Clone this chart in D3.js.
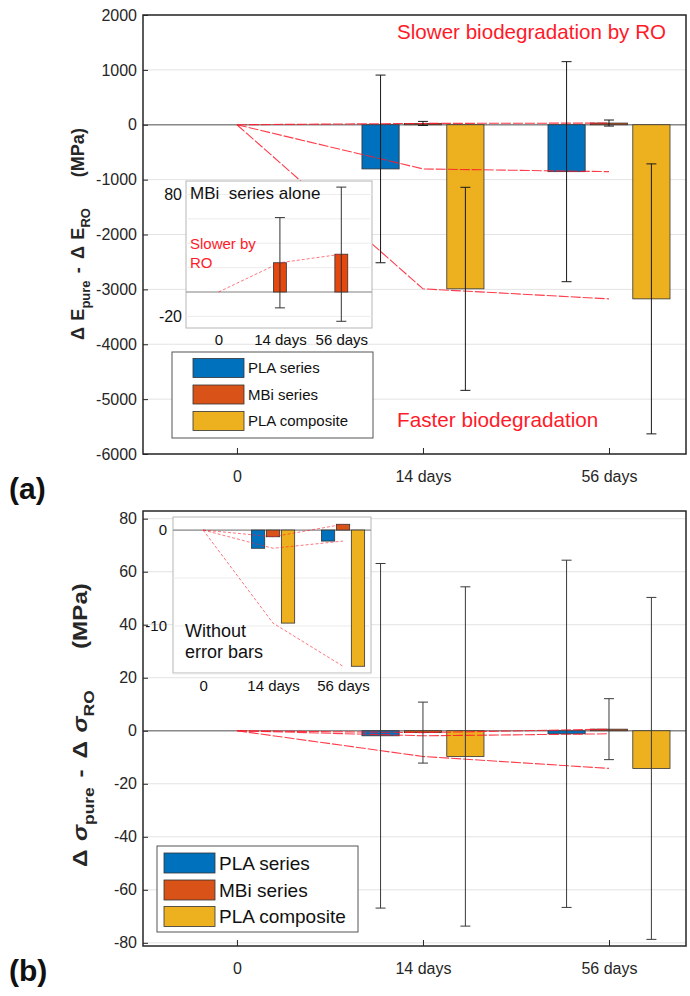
<!DOCTYPE html>
<html><head><meta charset="utf-8">
<script src="https://cdn.jsdelivr.net/npm/d3@7"></script>
<style>
body{margin:0;background:#fff}
text{font-family:"Liberation Sans",Arial,Helvetica,sans-serif}
</style>
</head><body>
<svg id="c" width="690" height="996"></svg>
<script>
// ---------------- DATA ----------------
const categories = ["0", "14 days", "56 days"];
const seriesNames = ["PLA series", "MBi series", "PLA composite"];
const seriesColors = ["#0072BD", "#D95319", "#EDB120"];

// (a) Δ E_pure − Δ E_RO (MPa)
const E_PLA = [0, -805, -855];
const E_MBi = [0, 24, 31];
const E_COMP = [0, -2990, -3173];
const E_PLA_err = [0, 1710, 2005];
const E_MBi_err = [0, 37, 55];
const E_COMP_err = [0, 1850, 2460];
const E_ticks = [-6000, -5000, -4000, -3000, -2000, -1000, 0, 1000, 2000];
const insetA_ticks = [80, -20];
const insetA_grid = [80, 60, 40, 20, 0, -20];

// (b) Δ σ_pure − Δ σ_RO (MPa)
const S_PLA = [0, -1.9, -1.15];
const S_MBi = [0, -0.7, 0.6];
const S_COMP = [0, -9.7, -14.2];
const S_PLA_err = [0, 65, 65.5];
const S_MBi_err = [0, 11.5, 11.5];
const S_COMP_err = [0, 64, 64.5];
const S_ticks = [-80, -60, -40, -20, 0, 20, 40, 60, 80];
const insetB_ticks = [0, -10];
const insetB_grid = [0, -5, -10, -15];

// ---------------- DRAWING ----------------
const svg = d3.select("#c");
const RED = "#ff1a2a";
const INK = "#262626";
const FF = '"Liberation Sans",Arial,sans-serif';
const fmt = d => String(d);

function drawBarChart(g, x, y, series, barW, opts) {
  const bw = x(barW) - x(0);
  series.forEach(s => {
    const data = s.values.map((v, j) => ({v, j})).filter(d => d.v !== 0);
    g.append("g").selectAll("rect").data(data).join("rect")
      .attr("x", d => x(d.j + s.offset) - bw / 2)
      .attr("y", d => Math.min(y(d.v), y(0)))
      .attr("width", bw)
      .attr("height", d => Math.abs(y(d.v) - y(0)))
      .attr("fill", s.color)
      .attr("stroke", "#333").attr("stroke-width", 0.8);
  });
  if (opts.lines) {
    const line = d3.line().x((d, j) => x(j)).y(d => y(d));
    series.forEach(s => {
      g.append("path").attr("d", line(s.values))
        .attr("fill", "none").attr("stroke", RED)
        .attr("stroke-width", opts.lineWidth || 1)
        .attr("stroke-opacity", opts.lineOpacity || 0.9)
        .attr("stroke-dasharray", opts.dash || null);
    });
  }
  if (opts.errors) {
    series.forEach(s => {
      const data = s.values.map((v, j) => ({v, j, e: s.errs[j]})).filter(d => d.e > 0);
      const eg = g.append("g").attr("stroke", opts.errColor || "#1a1a1a").attr("stroke-width", 1);
      eg.selectAll("line.v").data(data).join("line").attr("class", "v")
        .attr("x1", d => x(d.j + s.offset)).attr("x2", d => x(d.j + s.offset))
        .attr("y1", d => y(d.v - d.e)).attr("y2", d => y(d.v + d.e));
      ["lo", "hi"].forEach(k => {
        eg.selectAll("line." + k).data(data).join("line").attr("class", k)
          .attr("x1", d => x(d.j + s.offset) - 5).attr("x2", d => x(d.j + s.offset) + 5)
          .attr("y1", d => y(k === "lo" ? d.v - d.e : d.v + d.e))
          .attr("y2", d => y(k === "lo" ? d.v - d.e : d.v + d.e));
      });
    });
  }
}

function mainPanel(o) {
  const x = d3.scaleLinear().domain([-0.505, 2.414]).range([143, 686]);
  const y = d3.scaleLinear().domain(o.ydom).range([o.bottom, o.top]);
  const g = svg.append("g");
  g.append("g").selectAll("line").data(o.ticks).join("line")
    .attr("x1", 143).attr("x2", 686).attr("y1", d => y(d)).attr("y2", d => y(d))
    .attr("stroke", "#e3e3e3").attr("stroke-width", 1);
  g.append("line").attr("x1", 143).attr("x2", 686).attr("y1", y(0)).attr("y2", y(0))
    .attr("stroke", "#8a8a8a").attr("stroke-width", 1.5);
  drawBarChart(g, x, y, o.series, 0.2, {lines: true, errors: true, lineWidth: 1.1, lineOpacity: 0.85, dash: "10,2", errColor: o.errColor});
  const ya = g.append("g").attr("transform", "translate(143,0)")
    .call(d3.axisLeft(y).tickValues(o.ticks).tickFormat(fmt).tickSizeInner(-5).tickSizeOuter(0).tickPadding(6));
  const xa = g.append("g").attr("transform", `translate(0,${o.bottom})`)
    .call(d3.axisBottom(x).tickValues([0, 1, 2]).tickFormat(i => categories[i]).tickSizeInner(-6).tickSizeOuter(0).tickPadding(17));
  [ya, xa].forEach(a => {
    a.select(".domain").remove();
    a.selectAll("text").attr("font-size", 16).attr("fill", INK).style("font-family", FF);
    a.selectAll(".tick line").attr("stroke", INK);
  });
  g.append("rect").attr("x", 143).attr("y", o.top).attr("width", 686 - 143).attr("height", o.bottom - o.top)
    .attr("fill", "none").attr("stroke", INK).attr("stroke-width", 1.5);
  return {x, y, g};
}

function legend(lx, ly, w, h, fs, rowY, sw) {
  const g = svg.append("g");
  g.append("rect").attr("x", lx).attr("y", ly).attr("width", w).attr("height", h)
    .attr("fill", "#fff").attr("stroke", "#555").attr("stroke-width", 1);
  const rows = g.selectAll("g.r").data(seriesNames).join("g").attr("class", "r")
    .attr("transform", (d, i) => `translate(${lx + sw.x0},${rowY[i]})`);
  rows.append("rect").attr("x", 0).attr("y", -sw.h / 2).attr("width", sw.w).attr("height", sw.h)
    .attr("fill", (d, i) => seriesColors[i]).attr("stroke", "#333").attr("stroke-width", 0.8);
  rows.append("text").attr("x", sw.w + 4).attr("dy", "0.35em").attr("font-size", fs).attr("fill", "#111").text(d => d);
}

// rotated y-axis label, stretched along its length to the wanted extent
function yLabel(cx, cy, fs, sym, italic, target) {
  const t = svg.append("text").attr("font-weight", "bold").attr("font-size", fs).attr("fill", INK);
  const sub = fs * 0.72, dy = fs * 0.32;
  t.append("tspan").text("Δ");
  t.append("tspan").attr("dx", fs * 0.35).attr("font-style", italic ? "italic" : null).text(sym);
  t.append("tspan").attr("dy", dy).attr("font-size", sub).text("pure");
  t.append("tspan").attr("dy", -dy).attr("dx", fs * 0.4).text("-");
  t.append("tspan").attr("dx", fs * 0.45).text("Δ");
  t.append("tspan").attr("dx", fs * 0.35).attr("font-style", italic ? "italic" : null).text(sym);
  t.append("tspan").attr("dy", dy).attr("font-size", sub).text("RO");
  t.append("tspan").attr("dy", -dy).attr("dx", fs * 1.7).text("(MPa)");
  const bb = t.node().getBBox();
  const s = target / bb.width;
  t.attr("transform", `translate(${cx},${cy}) rotate(-90) scale(${s},1) translate(${-bb.x - bb.width / 2},0)`);
}

// ======== PANEL (a) ========
mainPanel({
  ydom: [-6000, 2000], top: 15, bottom: 454, ticks: E_ticks, errColor: "#1a1a1a",
  series: [
    {values: E_PLA, errs: E_PLA_err, color: seriesColors[0], offset: -0.228},
    {values: E_MBi, errs: E_MBi_err, color: seriesColors[1], offset: 0},
    {values: E_COMP, errs: E_COMP_err, color: seriesColors[2], offset: 0.228}
  ]
});
svg.append("text").attr("x", 397).attr("y", 39).attr("font-size", 20.6).attr("fill", RED).text("Slower biodegradation by RO");
svg.append("text").attr("x", 397).attr("y", 427).attr("font-size", 20.7).attr("fill", RED).text("Faster biodegradation");

// inset (a): MBi series alone
{
  const x = d3.scaleLinear().domain([-0.53, 2.5]).range([186, 372]);
  const y = d3.scaleLinear().domain([-29.5, 91]).range([328, 181]);
  const g = svg.append("g");
  g.append("rect").attr("x", 186).attr("y", 181).attr("width", 186).attr("height", 147)
    .attr("fill", "#fff").attr("stroke", "#b5b5b5");
  g.append("g").selectAll("line").data(insetA_grid).join("line")
    .attr("x1", 186).attr("x2", 372).attr("y1", d => y(d)).attr("y2", d => y(d))
    .attr("stroke", "#ececec");
  g.append("line").attr("x1", 186).attr("x2", 372).attr("y1", y(0)).attr("y2", y(0)).attr("stroke", "#8a8a8a").attr("stroke-width", 1.2);
  drawBarChart(g, x, y, [{values: E_MBi, errs: E_MBi_err, color: "#E5470F", offset: 0}], 0.21,
    {lines: true, errors: true, lineWidth: 1, lineOpacity: 0.6, dash: "3,2", errColor: "#333"});
  const ya = g.append("g").attr("transform", "translate(186,0)")
    .call(d3.axisLeft(y).tickValues(insetA_ticks).tickFormat(fmt).tickSize(0).tickPadding(4));
  const xa = g.append("g").attr("transform", "translate(0,328)")
    .call(d3.axisBottom(x).tickValues([0, 1, 2]).tickFormat(i => categories[i]).tickSize(0).tickPadding(6));
  ya.select(".domain").remove(); xa.select(".domain").remove();
  ya.selectAll("text").attr("font-size", 16).attr("fill", "#111").style("font-family", FF);
  xa.selectAll("text").attr("font-size", 15).attr("fill", "#111").style("font-family", FF);
  g.append("text").attr("x", 190).attr("y", 199).attr("font-size", 17).attr("fill", "#111").style("white-space", "pre").text("MBi  series alone");
  g.append("text").attr("x", 190).attr("y", 249).attr("font-size", 15).attr("fill", RED).text("Slower by");
  g.append("text").attr("x", 190).attr("y", 268).attr("font-size", 15).attr("fill", RED).text("RO");
}
legend(172, 352, 201, 86, 15, [368, 394.5, 421], {x0: 21, w: 51, h: 19});
yLabel(84, 234, 18, "E", false, 212);
svg.append("text").attr("x", 9).attr("y", 499).attr("font-size", 30).attr("font-weight", "bold").attr("fill", "#111").text("(a)");

// ======== PANEL (b) ========
mainPanel({
  ydom: [-81.2, 82.9], top: 511, bottom: 946, ticks: S_ticks, errColor: "#3a3a3a",
  series: [
    {values: S_PLA, errs: S_PLA_err, color: seriesColors[0], offset: -0.228},
    {values: S_MBi, errs: S_MBi_err, color: seriesColors[1], offset: 0},
    {values: S_COMP, errs: S_COMP_err, color: seriesColors[2], offset: 0.228}
  ]
});
// inset (b): without error bars
{
  const x = d3.scaleLinear().domain([-0.43, 2.4]).range([173, 371]);
  const y = d3.scaleLinear().domain([-14.9, 1.36]).range([673, 517]);
  const g = svg.append("g");
  g.append("rect").attr("x", 173).attr("y", 517).attr("width", 198).attr("height", 156)
    .attr("fill", "#fff").attr("stroke", "#b5b5b5");
  g.append("g").selectAll("line").data(insetB_grid).join("line")
    .attr("x1", 173).attr("x2", 371).attr("y1", d => y(d)).attr("y2", d => y(d))
    .attr("stroke", "#ececec");
  g.append("line").attr("x1", 173).attr("x2", 371).attr("y1", y(0)).attr("y2", y(0)).attr("stroke", "#8a8a8a").attr("stroke-width", 1.2);
  drawBarChart(g, x, y, [
    {values: S_PLA, errs: S_PLA_err, color: seriesColors[0], offset: -0.214},
    {values: S_MBi, errs: S_MBi_err, color: seriesColors[1], offset: 0},
    {values: S_COMP, errs: S_COMP_err, color: seriesColors[2], offset: 0.214}
  ], 0.19, {lines: true, errors: false, lineWidth: 1, lineOpacity: 0.6, dash: "3,2"});
  const ya = g.append("g").attr("transform", "translate(173,0)")
    .call(d3.axisLeft(y).tickValues(insetB_ticks).tickFormat(fmt).tickSize(0).tickPadding(6));
  const xa = g.append("g").attr("transform", "translate(0,673)")
    .call(d3.axisBottom(x).tickValues([0, 1, 2]).tickFormat(i => categories[i]).tickSize(0).tickPadding(7));
  ya.select(".domain").remove(); xa.select(".domain").remove();
  ya.selectAll("text").attr("font-size", 15).attr("fill", "#111").style("font-family", FF);
  xa.selectAll("text").attr("font-size", 15).attr("fill", "#111").style("font-family", FF);
  g.append("text").attr("x", 185).attr("y", 637).attr("font-size", 18).attr("fill", "#111").text("Without");
  g.append("text").attr("x", 185).attr("y", 658).attr("font-size", 18).attr("fill", "#111").text("error bars");
}
legend(157, 846, 201, 86, 19, [863, 890, 916.5], {x0: 7, w: 51, h: 20});
yLabel(87, 725, 21, "σ", true, 284);
svg.append("text").attr("x", 9).attr("y", 981).attr("font-size", 30).attr("font-weight", "bold").attr("fill", "#111").text("(b)");
</script>
</body></html>
